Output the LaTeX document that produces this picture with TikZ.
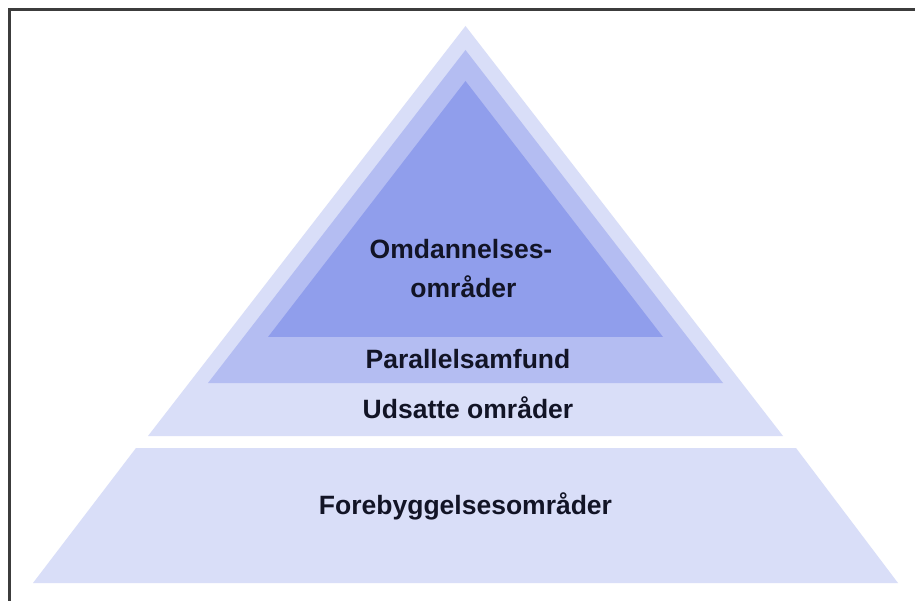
\documentclass[tikz,border=0pt]{standalone}
\usepackage{fontspec}
\setmainfont{Liberation Sans}
\definecolor{layerA}{RGB}{217,222,248}
\definecolor{layerB}{RGB}{180,189,242}
\definecolor{layerC}{RGB}{144,158,236}
\definecolor{txt}{RGB}{18,20,38}
\definecolor{frame}{RGB}{60,60,60}
\tikzset{
  lbl/.style={inner sep=0pt, anchor=base, text=txt, font=\bfseries\fontsize{26.5}{32}\selectfont},
  layer/.style={draw=none}
}
\begin{document}
\begin{tikzpicture}[x=1pt,y=-1pt]
\useasboundingbox (0,0) rectangle (915,601);
\fill[white] (0,0) rectangle (915,601);
% frame (top and left)
\draw[frame, line width=2.5pt] (9.5,601) -- (9.5,9.5) -- (915,9.5);
% bottom trapezoid
\fill[layerA] (136,448) -- (796,448) -- (898,583) -- (33,583) -- cycle;
% outer triangle
\fill[layerA] (465.5,26) -- (783,436) -- (148,436) -- cycle;
% middle triangle
\fill[layerB] (465.5,50) -- (723,383) -- (208,383) -- cycle;
% inner triangle
\fill[layerC] (465.5,81) -- (663,337) -- (268,337) -- cycle;
% labels
\node[lbl] (omd1) at (461,259) {Omdannelses-};
\node[lbl] (omd2) at (463.5,298) {områder};
\node[lbl] (par) at (468,368) {Parallelsamfund};
\node[lbl] (uds) at (468,418) {Udsatte områder};
\node[lbl] (fore) at (465.5,514) {Forebyggelsesområder};
\end{tikzpicture}
\end{document}
